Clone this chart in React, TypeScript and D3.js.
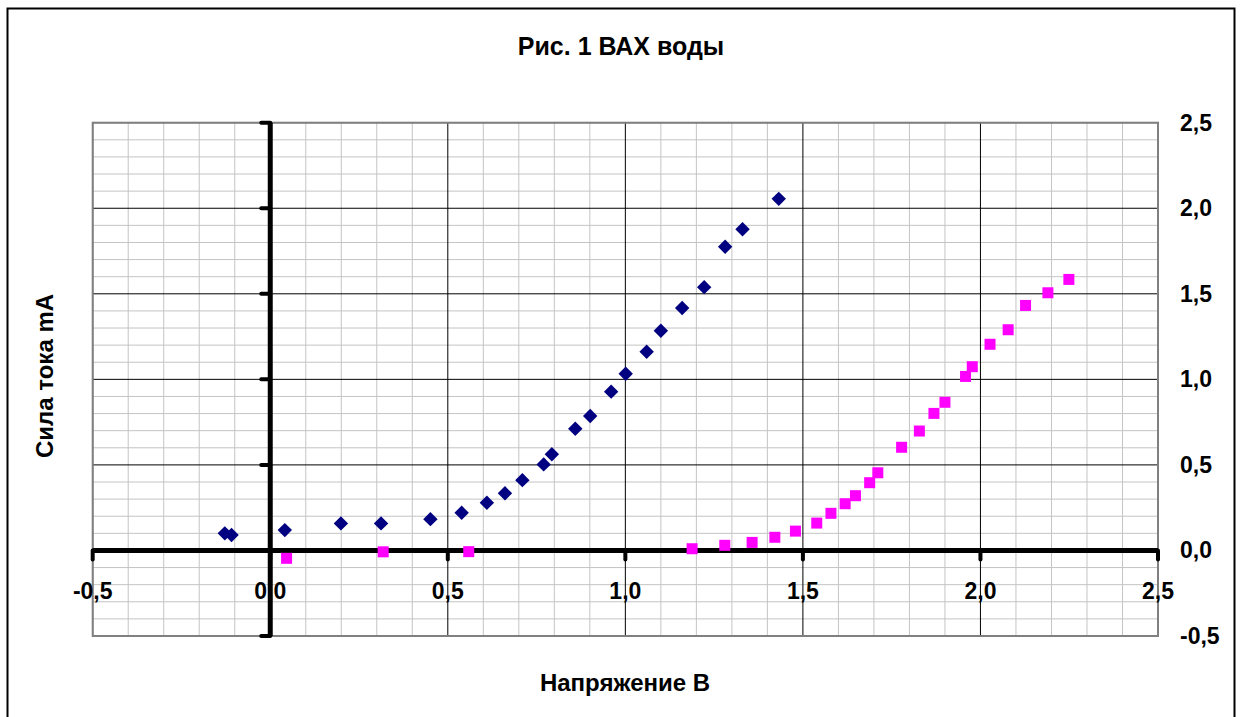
import React from "react";
import * as d3 from "d3";

const blueX = [-0.128, -0.109, 0.041, 0.199, 0.312, 0.451, 0.539, 0.61, 0.661, 0.71, 0.77, 0.793, 0.859, 0.901, 0.96, 1.001, 1.06, 1.1, 1.16, 1.222, 1.281, 1.33, 1.432];
const blueY = [0.10, 0.09, 0.119, 0.158, 0.158, 0.183, 0.22, 0.279, 0.334, 0.411, 0.503, 0.562, 0.711, 0.786, 0.928, 1.033, 1.161, 1.284, 1.417, 1.539, 1.775, 1.877, 2.055];

const magentaX = [0.046, 0.318, 0.559, 1.188, 1.28, 1.357, 1.421, 1.479, 1.539, 1.579, 1.619, 1.648, 1.688, 1.711, 1.778, 1.828, 1.869, 1.9, 1.958, 1.977, 2.027, 2.078, 2.127, 2.19, 2.249];
const magentaY = [-0.046, -0.008, -0.007, 0.01, 0.03, 0.047, 0.077, 0.113, 0.16, 0.217, 0.273, 0.32, 0.396, 0.454, 0.603, 0.698, 0.801, 0.866, 1.017, 1.074, 1.205, 1.29, 1.432, 1.506, 1.584];

const majorTicks = [-0.5, 0, 0.5, 1.0, 1.5, 2.0, 2.5];
const tickLabels = ["-0,5", "0,0", "0,5", "1,0", "1,5", "2,0", "2,5"];
const title = "Рис. 1 ВАХ воды";
const xTitle = "Напряжение В";
const yTitle = "Сила тока mA";

const W = 1240;
const H = 717;
const font = "'Liberation Sans', Arial, sans-serif";

export default function App() {
  const x = d3.scaleLinear().domain([-0.5, 2.5]).range([92.7, 1158]);
  const y = d3.scaleLinear().domain([-0.5, 2.5]).range([636, 122.7]);
  const minor = d3.range(-5, 26).map((i) => i / 10);
  const isMajor = (v: number) => Math.abs(Math.round(v * 2) - v * 2) < 1e-6;
  const x0 = x(0);
  const y0 = y(0);
  const r = 7.2;
  const diamond = `M0,${-r}L${r},0L0,${r}L${-r},0Z`;
  const sq = 11;

  return (
    <svg
      width={W}
      height={H}
      style={{ position: "absolute", left: 0, top: 0, background: "#fff" }}
      fontFamily={font}
    >
      <rect x={0} y={0} width={W} height={H} fill="#fff" />
      <rect x={7.5} y={8.5} width={1227} height={730} fill="#fff" stroke="#000" strokeWidth={2} />
      <text x={621} y={55} textAnchor="middle" fontSize={25} fontWeight="bold">{title}</text>

      {/* plot area */}
      <rect x={x(-0.5)} y={y(2.5)} width={x(2.5) - x(-0.5)} height={y(-0.5) - y(2.5)} fill="#fff" />
      {minor.filter((v) => !isMajor(v)).map((v) => (
        <g key={"m" + v}>
          <line x1={x(v)} x2={x(v)} y1={y(2.5)} y2={y(-0.5)} stroke="#c4c4c4" strokeWidth={1} />
          <line x1={x(-0.5)} x2={x(2.5)} y1={y(v)} y2={y(v)} stroke="#c4c4c4" strokeWidth={1} />
        </g>
      ))}
      {majorTicks.map((v) => (
        <g key={"M" + v}>
          <line x1={x(v)} x2={x(v)} y1={y(2.5)} y2={y(-0.5)} stroke="#000" strokeWidth={1} />
          <line x1={x(-0.5)} x2={x(2.5)} y1={y(v)} y2={y(v)} stroke="#000" strokeWidth={1} />
        </g>
      ))}
      <rect x={x(-0.5)} y={y(2.5)} width={x(2.5) - x(-0.5)} height={y(-0.5) - y(2.5)} fill="none" stroke="#808080" strokeWidth={2} />

      {/* thick axes */}
      <line x1={x(-0.5)} x2={x(2.5)} y1={y0} y2={y0} stroke="#000" strokeWidth={5} />
      <line x1={x0} x2={x0} y1={y(2.5)} y2={y(-0.5)} stroke="#000" strokeWidth={5} />
      {majorTicks.map((v) => (
        <g key={"t" + v}>
          <line x1={x(v)} x2={x(v)} y1={y0} y2={y0 + 9} stroke="#000" strokeWidth={4} strokeLinecap="round" />
          <line x1={x0} x2={x0 - 9} y1={y(v)} y2={y(v)} stroke="#000" strokeWidth={4} strokeLinecap="round" />
        </g>
      ))}

      {/* tick labels */}
      {majorTicks.map((v, i) => (
        <text key={"xl" + v} x={x(v)} y={599} textAnchor="middle" fontSize={23} fontWeight="bold">{tickLabels[i]}</text>
      ))}
      {majorTicks.map((v, i) => (
        <text key={"yl" + v} x={1180} y={y(v) + 8} textAnchor="start" fontSize={23} fontWeight="bold">{tickLabels[i]}</text>
      ))}

      {/* series */}
      {blueX.map((v, i) => (
        <path key={"b" + i} d={diamond} transform={`translate(${x(v)},${y(blueY[i])})`} fill="#000080" />
      ))}
      {magentaX.map((v, i) => (
        <rect key={"p" + i} x={x(v) - sq / 2} y={y(magentaY[i]) - sq / 2} width={sq} height={sq} fill="#ff00ff" />
      ))}

      <text x={625} y={691} textAnchor="middle" fontSize={24} fontWeight="bold">{xTitle}</text>
      <text transform={`translate(53,376) rotate(-90)`} textAnchor="middle" fontSize={24} fontWeight="bold">{yTitle}</text>
    </svg>
  );
}
